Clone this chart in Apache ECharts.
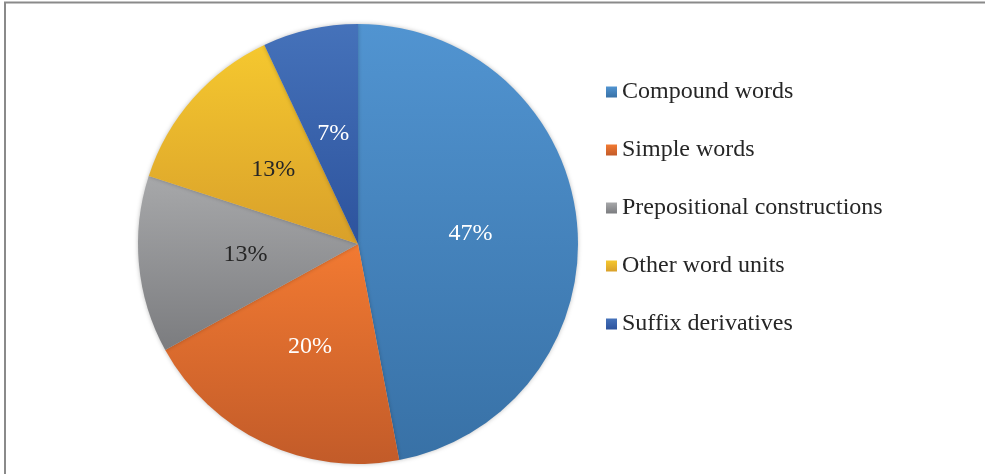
<!DOCTYPE html>
<html>
<head>
<meta charset="utf-8">
<script src="https://cdn.jsdelivr.net/npm/echarts@6/dist/echarts.min.js"></script>
<style>
html,body{margin:0;padding:0;background:#fff;}
#pie{width:985px;height:474px;}
</style>
</head>
<body>
<div id="pie"></div>
<script>
// 类别与占比
var categories = ['Compound words','Simple words','Prepositional constructions','Other word units','Suffix derivatives'];
var values = [47, 20, 13, 13, 7];
var topColors = ['#5194d1','#f27a32','#a7a8aa','#f5c82f','#4572ba'];
var bottomColors = ['#3871a6','#c25b29','#7b7c7f','#d9a02a','#2d539d'];
var labelColors = ['#ffffff','#ffffff','#262626','#262626','#ffffff'];

var piedata = [];
for(var i=0;i<categories.length;i++){
    piedata.push({
        name:categories[i],
        value:values[i],
        itemStyle:{
            color:new echarts.graphic.LinearGradient(0,0,0,1,[
                {offset:0,color:topColors[i]},
                {offset:1,color:bottomColors[i]}
            ])
        },
        label:{color:labelColors[i]}
    });
}

var charts = echarts.init(document.getElementById('pie'));
charts.setOption({
    animation:false,
    graphic:[{
        type:'rect',
        shape:{x:5,y:2.5,width:1000,height:500},
        style:{fill:'none',stroke:'#8a8a8a',lineWidth:2}
    }],
    legend:{
        orient:'vertical',
        left:606,
        top:80,
        padding:0,
        itemWidth:11,
        itemHeight:11,
        itemGap:34,
        icon:'rect',
        textStyle:{
            fontFamily:'Liberation Serif',
            fontSize:24,
            lineHeight:24,
            color:'#262626'
        },
        data:categories
    },
    series:[{
        type:'pie',
        radius:220,
        center:[358,244],
        startAngle:90,
        clockwise:true,
        data:piedata,
        label:{
            position:'inside',
            formatter:'{d}%',
            fontFamily:'Liberation Serif',
            fontSize:24
        },
        labelLine:{show:false},
        itemStyle:{
            borderWidth:0,
            shadowBlur:4,
            shadowColor:'rgba(0,0,0,0.25)'
        },
        emphasis:{disabled:true}
    }]
});
</script>
</body>
</html>
